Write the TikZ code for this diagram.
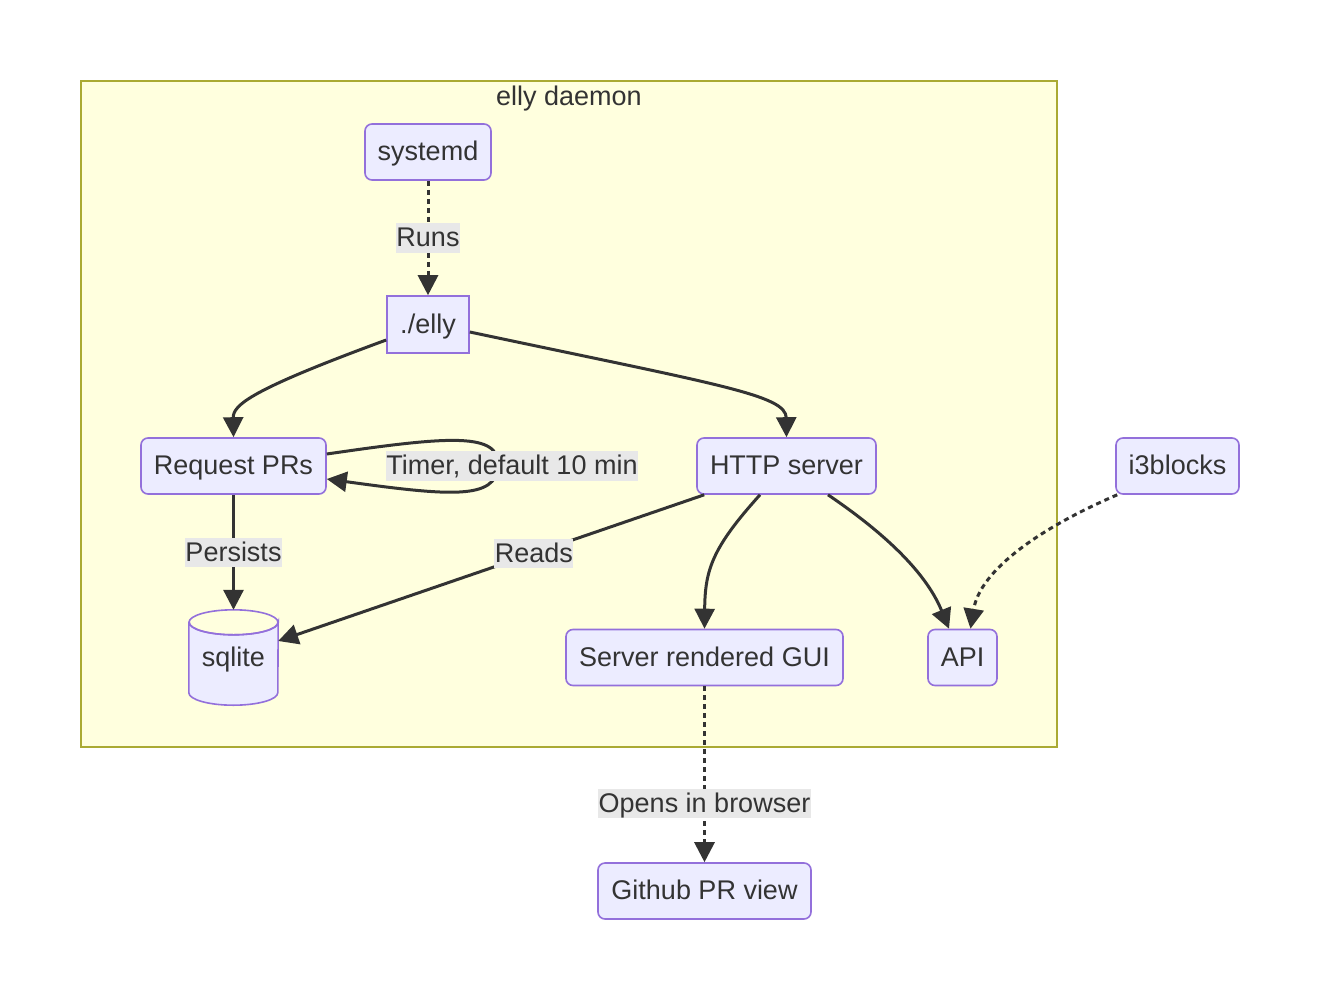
\documentclass[tikz,border=0pt]{standalone}
\usepackage{fontspec}
\setmainfont{Liberation Sans}
\usetikzlibrary{arrows.meta,calc}
\definecolor{nodefill}{HTML}{ECECFF}
\definecolor{nodeborder}{HTML}{9370DB}
\definecolor{txt}{HTML}{333333}
\definecolor{clusterfill}{HTML}{FFFFDE}
\definecolor{clusterborder}{HTML}{AAAA33}
\definecolor{lblbg}{HTML}{E8E8E8}
\begin{document}
\begin{tikzpicture}[x=1pt,y=-1pt,
  font=\fontsize{27}{32}\selectfont, text=txt,
  box/.style={draw=nodeborder, fill=nodefill, line width=1.6pt, rounded corners=7pt,
    minimum height=56pt, inner sep=0pt, text height=22pt, text depth=5pt},
  sqbox/.style={box, rounded corners=0pt},
  edge/.style={draw=txt, line width=3pt, -{Triangle[length=20pt,width=20pt]}},
  dots/.style={edge, dash pattern=on 5pt off 4pt},
  lbl/.style={fill=lblbg, inner xsep=0.5pt, inner ysep=2pt, text height=21.5pt, text depth=4pt}]
\useasboundingbox (0,0) rectangle (1320,999);
\fill[white] (0,0) rectangle (1320,999);
% cluster
\draw[fill=clusterfill, draw=clusterborder, line width=1.5pt] (81,81) rectangle (1057,747);
\node (title) at (569,99) {elly daemon};
% nodes
\node[box, minimum width=126pt] (systemd) at (428,152) {systemd};
\node[sqbox, minimum width=82pt, minimum height=57pt] (elly) at (428,324.5) {./elly};
\node[box, minimum width=185pt] (req) at (233.5,466) {Request PRs};
\node[box, minimum width=179pt] (http) at (786.5,466) {HTTP server};
\node[box, minimum width=123pt] (i3) at (1177.5,466) {i3blocks};
\node[box, minimum width=277pt] (gui) at (704.5,657.5) {Server rendered GUI};
\node[box, minimum width=69pt] (api) at (962.5,657.5) {API};
\node[box, minimum width=213pt] (gh) at (704.5,891) {Github PR view};
% sqlite cylinder
\node[minimum width=89pt, minimum height=95pt, inner sep=0pt] (sqlite) at (233.5,657.5) {};
\draw[draw=nodeborder, fill=nodefill, line width=1.6pt]
  ($(sqlite.north west)+(0,12.5)$) -- ($(sqlite.south west)+(0,-12.5)$)
  arc[start angle=180, end angle=0, x radius=44.5, y radius=12.5]
  -- ($(sqlite.north east)+(0,12.5)$)
  arc[start angle=0, end angle=180, x radius=44.5, y radius=12.5] -- cycle;
\draw[draw=nodeborder, line width=1.6pt]
  ($(sqlite.north)+(0,12.5)$) ellipse[x radius=44.5, y radius=12.5];
\node[text height=22pt, text depth=5pt, inner sep=0pt] (sqlitetext) at (233.5,658) {sqlite};
% edges
\draw[dots] (systemd.south) -- node[lbl] {Runs} (elly.north);
\draw[edge] ($(elly.west)+(0,15.5)$) .. controls (250,390) and (233,405) .. (req.north);
\draw[edge] ($(elly.east)+(0,7.5)$) .. controls (720,385) and (786,395) .. (http.north);
\draw[edge] ($(req.east)+(0,-12)$) .. controls (450,436) and (500,432) .. (498,466)
  node[lbl, xshift=14pt] {Timer, default 10 min}
  .. controls (496,500) and (450,496) .. ($(req.east)+(0,13)$);
\draw[edge] (req.south) -- node[lbl] {Persists} ($(sqlite.north)+(0,0)$);
\draw[edge] ($(http.south west)+(8,0)$) -- node[lbl, pos=0.4] {Reads} ($(sqlite.east)+(0,-16.5)$);
\draw[edge] ($(http.south)+(-26.5,0)$) .. controls (712,548) and (705,570) .. (gui.north);
\draw[edge] ($(http.south)+(41.5,0)$) .. controls (880,530) and (925,570) .. ($(api.north)+(-13.5,0)$);
\draw[dots] ($(i3.south west)+(2,0)$) .. controls (1040,528) and (980,570) .. ($(api.north)+(8,0)$);
\draw[dots] (gui.south) -- node[lbl, pos=0.667] {Opens in browser} (gh.north);
\end{tikzpicture}
\end{document}
